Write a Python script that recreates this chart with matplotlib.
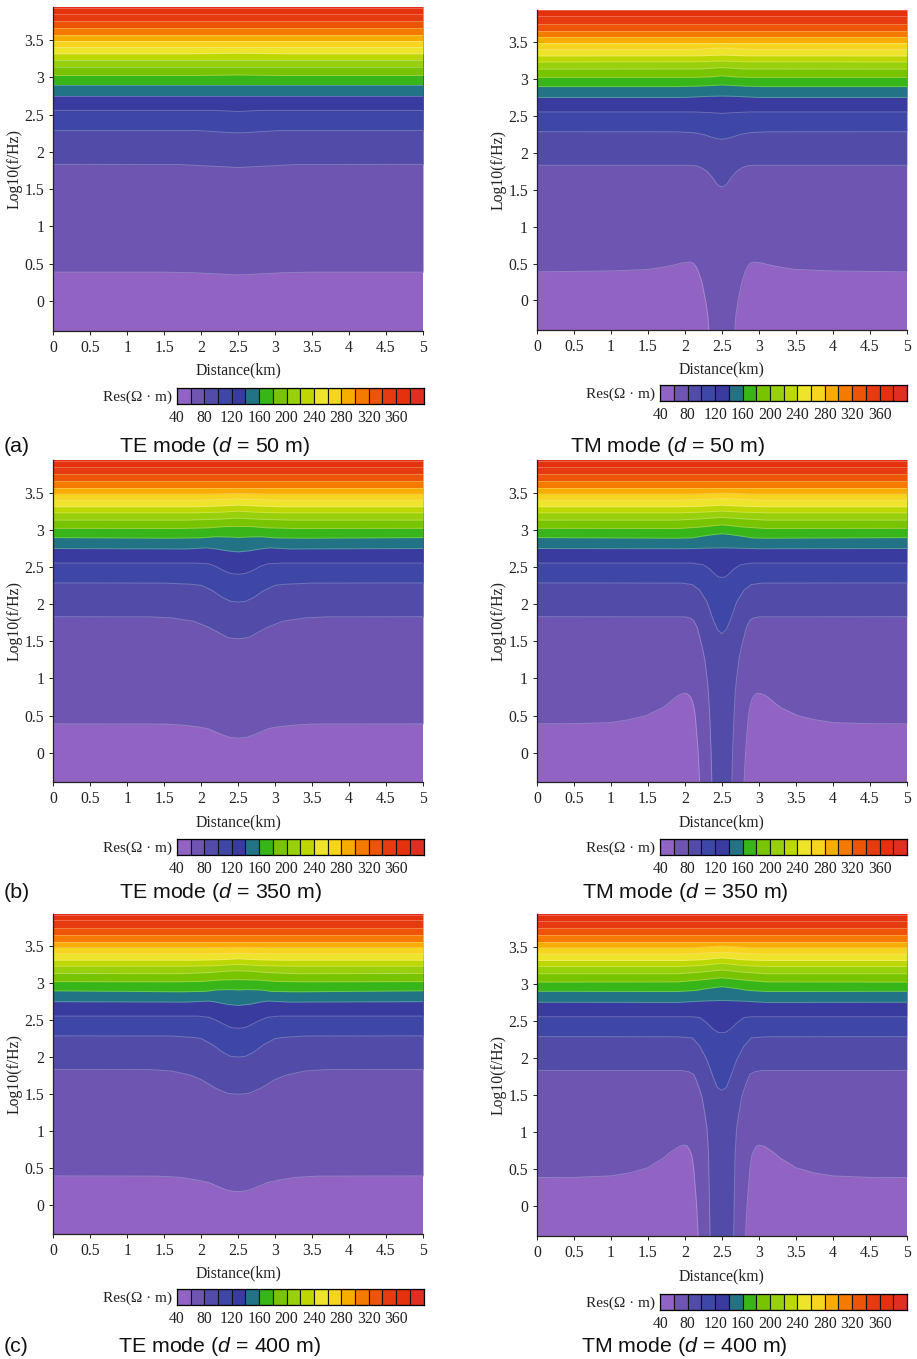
import matplotlib
matplotlib.use("Agg")
import matplotlib.pyplot as plt

W, H = 917, 1359
plt.rcParams['font.family'] = ['Liberation Serif', 'DejaVu Serif']
plt.rcParams['mathtext.fontset'] = 'custom'
plt.rcParams['mathtext.it'] = 'Liberation Sans:italic'
plt.rcParams['mathtext.rm'] = 'Liberation Sans'

# Colour bands (one per 20 ohm-m step from 40 to 400)
band_values = [40, 60, 80, 100, 120, 140, 160, 180, 200, 220, 240, 260, 280, 300, 320, 340, 360, 380, 400]
band_colors = ['#9163C3', '#6E55B2', '#524CA8', '#3F47A6', '#3A3B9F', '#227385',
               '#38B518', '#78C400', '#98D00D', '#BDD800', '#EDE42B', '#F7D41F',
               '#F9AC00', '#F47A00', '#EC5407', '#E63A10', '#E4320F', '#E02E20']
cbar_ticks = [40, 80, 120, 160, 200, 240, 280, 320, 360]
x_ticks = [0, 0.5, 1, 1.5, 2, 2.5, 3, 3.5, 4, 4.5, 5]
y_ticks = [0, 0.5, 1, 1.5, 2, 2.5, 3, 3.5]

# log10(f) of each colour boundary far from the anomaly
base_levels = [0.388, 1.832, 2.287, 2.555, 2.751, 2.898, 3.023, 3.134, 3.232,
               3.313, 3.402, 3.486, 3.567, 3.656, 3.749, 3.852, 3.93]

# Left half of each disturbed boundary: index -> (distance, log10 f)
te_50 = {
    0: ([1.5, 1.9, 2.2, 2.4, 2.5], [.388, .38, .365, .355, .352]),
    1: ([1.7, 2.0, 2.3, 2.5], [1.83, 1.815, 1.80, 1.79]),
    2: ([1.9, 2.2, 2.4, 2.5], [2.287, 2.27, 2.257, 2.255]),
    3: ([2.2, 2.4, 2.5], [2.555, 2.545, 2.54]),
    6: ([2.0, 2.5], [3.023, 3.03]),
    9: ([1.8, 2.5], [3.313, 3.32]),
}
tm_50 = {
    0: ([1.0, 1.5, 1.7, 1.85, 1.97, 2.07, 2.115, 2.15, 2.18, 2.23, 2.28, 2.31, 2.325, 2.5],
        [.40, .42, .45, .48, .51, .52, .505, .46, .40, .25, 0, -.2, -.42, -.5]),
    1: ([2.05, 2.15, 2.22, 2.3, 2.37, 2.43, 2.47, 2.5], [1.832, 1.825, 1.80, 1.75, 1.67, 1.58, 1.55, 1.54]),
    2: ([1.9, 2.1, 2.25, 2.37, 2.45, 2.5], [2.285, 2.275, 2.25, 2.21, 2.19, 2.185]),
    3: ([2.1, 2.35, 2.5], [2.555, 2.545, 2.535]),
    4: ([2.0, 2.3, 2.5], [2.751, 2.765, 2.77]),
    5: ([1.9, 2.2, 2.5], [2.898, 2.905, 2.92]),
    6: ([2.1, 2.35, 2.5], [3.023, 3.03, 3.045]),
    7: ([2.2, 2.5], [3.137, 3.155]),
    8: ([2.2, 2.5], [3.235, 3.245]),
    9: ([2.2, 2.5], [3.315, 3.325]),
    10: ([2.1, 2.5], [3.402, 3.42]),
}
te_350 = {
    0: ([1.5, 1.75, 1.98, 2.1, 2.21, 2.3, 2.39, 2.5], [.385, .37, .344, .32, .27, .235, .205, .195]),
    1: ([1.3, 1.6, 1.9, 2.1, 2.25, 2.35, 2.43, 2.5], [1.83, 1.815, 1.77, 1.69, 1.61, 1.555, 1.54, 1.535]),
    2: ([1.5, 1.85, 2.0, 2.15, 2.3, 2.4, 2.5], [2.285, 2.27, 2.255, 2.185, 2.085, 2.04, 2.03]),
    3: ([1.9, 2.1, 2.2, 2.3, 2.4, 2.5], [2.555, 2.545, 2.51, 2.455, 2.415, 2.405]),
    4: ([1.8, 2.07, 2.2, 2.35, 2.5], [2.745, 2.76, 2.745, 2.72, 2.705]),
    5: ([1.6, 2.0, 2.2, 2.4, 2.5], [2.89, 2.895, 2.91, 2.905, 2.90]),
    6: ([1.7, 2.1, 2.3, 2.5], [3.02, 3.03, 3.045, 3.05]),
    7: ([1.8, 2.2, 2.5], [3.134, 3.145, 3.16]),
    8: ([1.9, 2.25, 2.5], [3.232, 3.24, 3.255]),
    9: ([1.9, 2.25, 2.5], [3.313, 3.325, 3.335]),
    10: ([2.0, 2.5], [3.402, 3.42]),
    11: ([2.1, 2.5], [3.486, 3.495]),
}
tm_350 = {
    0: ([0.5, 1.0, 1.25, 1.48, 1.6, 1.69, 1.76, 1.82, 1.88, 1.93, 1.99, 2.03, 2.07, 2.1, 2.12, 2.14, 2.165, 2.18, 2.19, 2.2, 2.5],
        [.39, .405, .445, .50, .56, .60, .65, .70, .75, .78, .80, .795, .76, .70, .62, .50, .2, 0, -.2, -.42, -.6]),
    1: ([2.0, 2.07, 2.12, 2.17, 2.2, 2.24, 2.27, 2.3, 2.32, 2.34, 2.355, 2.365, 2.5],
        [1.83, 1.815, 1.78, 1.68, 1.56, 1.40, 1.25, 1.0, .8, .4, 0, -.42, -.6]),
    2: ([1.95, 2.1, 2.2, 2.3, 2.38, 2.44, 2.5], [2.285, 2.265, 2.19, 2.03, 1.80, 1.66, 1.60]),
    3: ([2.1, 2.25, 2.33, 2.39, 2.45, 2.5], [2.555, 2.53, 2.48, 2.42, 2.37, 2.36]),
    4: ([2.0, 2.25, 2.5], [2.748, 2.755, 2.76]),
    5: ([1.9, 2.1, 2.25, 2.4, 2.5], [2.89, 2.895, 2.92, 2.94, 2.95]),
    6: ([1.9, 2.2, 2.4, 2.5], [3.02, 3.04, 3.06, 3.07]),
    7: ([1.9, 2.2, 2.5], [3.134, 3.15, 3.17]),
    8: ([1.9, 2.2, 2.5], [3.232, 3.24, 3.255]),
    9: ([1.9, 2.2, 2.5], [3.313, 3.32, 3.335]),
    10: ([2.0, 2.5], [3.402, 3.425]),
    11: ([2.1, 2.5], [3.486, 3.50]),
}
te_400 = {
    0: ([1.4, 1.7, 1.9, 2.1, 2.25, 2.35, 2.43, 2.5], [.385, .37, .34, .30, .235, .195, .18, .175]),
    1: ([1.3, 1.6, 1.85, 2.0, 2.2, 2.35, 2.43, 2.5], [1.83, 1.81, 1.755, 1.695, 1.575, 1.51, 1.50, 1.495]),
    2: ([1.6, 1.9, 2.0, 2.15, 2.3, 2.4, 2.5], [2.285, 2.265, 2.25, 2.17, 2.06, 2.01, 2.0]),
    3: ([1.95, 2.1, 2.2, 2.3, 2.4, 2.5], [2.555, 2.54, 2.5, 2.45, 2.40, 2.39]),
    4: ([1.8, 2.1, 2.2, 2.35, 2.5], [2.745, 2.76, 2.745, 2.715, 2.70]),
    5: ([1.7, 2.05, 2.2, 2.4, 2.5], [2.885, 2.89, 2.91, 2.915, 2.91]),
    6: ([1.6, 2.0, 2.25, 2.5], [3.02, 3.025, 3.045, 3.05]),
    7: ([1.7, 2.1, 2.35, 2.5], [3.13, 3.145, 3.165, 3.17]),
    8: ([1.8, 2.2, 2.5], [3.232, 3.24, 3.257]),
    9: ([1.9, 2.25, 2.5], [3.313, 3.32, 3.333]),
    10: ([2.0, 2.5], [3.40, 3.41]),
    11: ([2.1, 2.5], [3.486, 3.49]),
}
tm_400 = {
    0: ([0.5, 1.0, 1.25, 1.5, 1.6, 1.71, 1.78, 1.85, 1.93, 1.99, 2.03, 2.06, 2.09, 2.105, 2.12, 2.145, 2.16, 2.17, 2.18, 2.5],
        [.39, .41, .45, .52, .585, .65, .71, .76, .81, .825, .815, .77, .70, .62, .50, .2, 0, -.2, -.42, -.6]),
    1: ([1.95, 2.05, 2.12, 2.17, 2.23, 2.27, 2.3, 2.32, 2.33, 2.34, 2.5],
        [1.83, 1.815, 1.78, 1.66, 1.48, 1.25, 1.05, .7, .2, -.42, -.6]),
    2: ([1.9, 2.1, 2.2, 2.3, 2.38, 2.44, 2.5], [2.285, 2.27, 2.16, 1.97, 1.75, 1.6, 1.565]),
    3: ([2.1, 2.2, 2.3, 2.38, 2.45, 2.5], [2.555, 2.545, 2.47, 2.39, 2.345, 2.34]),
    4: ([1.9, 2.2, 2.5], [2.748, 2.765, 2.775]),
    5: ([1.9, 2.15, 2.3, 2.5], [2.895, 2.91, 2.935, 2.96]),
    6: ([1.9, 2.2, 2.4, 2.5], [3.025, 3.05, 3.07, 3.08]),
    7: ([1.9, 2.2, 2.5], [3.134, 3.155, 3.185]),
    8: ([1.9, 2.2, 2.5], [3.232, 3.245, 3.275]),
    9: ([1.95, 2.25, 2.5], [3.313, 3.325, 3.35]),
    10: ([2.0, 2.5], [3.402, 3.425]),
    11: ([2.1, 2.5], [3.486, 3.51]),
}

# Layout in reference pixels
LEFT_COL = (53.3, 423.0)
RIGHT_COL = (537.0, 906.7)
panels = [
    dict(curves=te_50, col=LEFT_COL, y=(7, 331), cb=(177, 423.5, 388, 404), xl=370, cap=("TE mode ($d$ = 50 m)", 119, 447), tag="(a)"),
    dict(curves=tm_50, col=RIGHT_COL, y=(9.7, 330), cb=(660.3, 907, 385.3, 401), xl=369, cap=("TM mode ($d$ = 50 m)", 570, 447), tag=None),
    dict(curves=te_350, col=LEFT_COL, y=(460.3, 782.3), cb=(177, 423.5, 839, 855), xl=822, cap=("TE mode ($d$ = 350 m)", 119, 893), tag="(b)"),
    dict(curves=tm_350, col=RIGHT_COL, y=(460.3, 782.3), cb=(660.3, 907, 839, 855), xl=822, cap=("TM mode ($d$ = 350 m)", 582, 893), tag=None),
    dict(curves=te_400, col=LEFT_COL, y=(914, 1234), cb=(177, 423.5, 1289, 1305), xl=1273, cap=("TE mode ($d$ = 400 m)", 118, 1346), tag="(c)"),
    dict(curves=tm_400, col=RIGHT_COL, y=(914, 1236), cb=(660.3, 907, 1294, 1310), xl=1276, cap=("TM mode ($d$ = 400 m)", 581, 1346), tag=None),
]

fig = plt.figure(figsize=(W / 100, H / 100), dpi=100)


def add_ax(x0, x1, y0, y1):
    return fig.add_axes([x0 / W, 1 - y1 / H, (x1 - x0) / W, (y1 - y0) / H])


def put(x, y, s, **kw):
    fig.text(x / W, 1 - y / H, s, **kw)


TICK_COLOR = '#222222'
for p in panels:
    x0, x1 = p['col']
    y0, y1 = p['y']
    ax = add_ax(x0, x1, y0, y1)
    ax.set_xlim(0, 5)
    ax.set_ylim(-0.4, 3.94)
    ax.axhspan(-1, 5, color=band_colors[0], lw=0, zorder=1)
    for i, base in enumerate(base_levels):
        if i in p['curves']:
            hx, hy = p['curves'][i]
            xs = [0] + hx + [5 - v for v in reversed(hx[:-1])] + [5]
            ys = [base] + hy + list(reversed(hy[:-1])) + [base]
        else:
            xs, ys = [0, 5], [base, base]
        ax.fill_between(xs, ys, 5, color=band_colors[i + 1], lw=0, zorder=2 + i)
        ax.plot(xs, ys, color='white', alpha=0.25, lw=0.7, zorder=2 + i + 0.5)
    for s in ('top', 'right'):
        ax.spines[s].set_visible(False)
    for s in ('left', 'bottom'):
        ax.spines[s].set_linewidth(0.9)
        ax.spines[s].set_color('#222222')
        ax.spines[s].set_zorder(50)
    ax.set_xticks(x_ticks, [f'{v:g}' for v in x_ticks])
    ax.set_yticks(y_ticks, [f'{v:g}' for v in y_ticks])
    ax.tick_params(length=3, width=0.7, labelsize=11.3, pad=3.5, color=TICK_COLOR, labelcolor=TICK_COLOR)

    mid = (x0 + x1) / 2
    put(mid, p['xl'], 'Distance(km)', ha='center', va='center', fontsize=11.3, color=TICK_COLOR)
    put(x0 - 38.5, (y0 + y1) / 2, 'Log10(f/Hz)', ha='center', va='center', rotation=90, fontsize=11.3, color=TICK_COLOR)

    cx0, cx1, cy0, cy1 = p['cb']
    cax = add_ax(cx0, cx1, cy0, cy1)
    cax.set_xlim(band_values[0], band_values[-1])
    cax.set_ylim(0, 1)
    cax.bar(band_values[:-1], 1, width=20, align='edge', color=band_colors, edgecolor='#111111', linewidth=0.8)
    cax.set_yticks([])
    cax.set_xticks(cbar_ticks, [str(v) for v in cbar_ticks])
    cax.tick_params(length=0, labelsize=11.3, pad=4, labelcolor=TICK_COLOR)
    for s in cax.spines.values():
        s.set_linewidth(0.9)
    put(cx0 - 5, (cy0 + cy1) / 2 + 1, 'Res(Ω · m)', ha='right', va='center', fontsize=11, color=TICK_COLOR)

    text, cap_x, cap_y = p['cap']
    put(cap_x, cap_y, text, ha='left', va='center', fontsize=15.4, family='Liberation Sans', color='#111111')
    if p['tag']:
        put(4, cap_y, p['tag'], ha='left', va='center', fontsize=15.4, family='Liberation Sans', color='#111111')

fig.savefig('out.png', dpi=100)
